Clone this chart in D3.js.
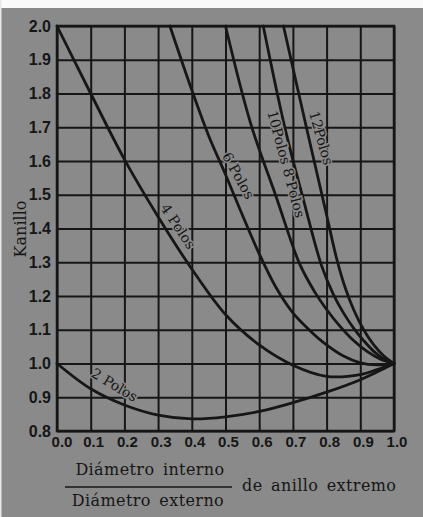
<!DOCTYPE html>
<html><head><meta charset="utf-8">
<script src="https://cdn.jsdelivr.net/npm/d3@7/dist/d3.min.js"></script>
<style>
html,body{margin:0;padding:0;background:#fff;}
svg{display:block;}
</style></head><body>
<svg id="chart" width="423" height="517"></svg>
<script>
// ---- data ----
const xTicks = [0,0.1,0.2,0.3,0.4,0.5,0.6,0.7,0.8,0.9,1.0];
const xTickLabels = ["0.0","0.1","0.2","0.3","0.4","0.5","0.6","0.7","0.8","0.9","1.0"];
const yTicks = [0.8,0.9,1.0,1.1,1.2,1.3,1.4,1.5,1.6,1.7,1.8,1.9,2.0];
const yTickLabels = ["0.8","0.9","1.0","1.1","1.2","1.3","1.4","1.5","1.6","1.7","1.8","1.9","2.0"];

const polos2 = [[0,1.0],[0.1,0.925],[0.2,0.877],[0.3,0.847],[0.4,0.836],[0.5,0.842],[0.6,0.858],[0.7,0.884],[0.8,0.915],[0.9,0.952],[1.0,1.0]];
const polos4 = [[0,2.0],[0.1,1.80],[0.2,1.605],[0.3,1.435],[0.4,1.28],[0.5,1.145],[0.6,1.055],[0.7,0.995],[0.8,0.962],[0.9,0.967],[0.95,0.982],[1.0,1.0]];
const polos6 = [[0.335,2.0],[0.4,1.81],[0.45,1.675],[0.5,1.56],[0.55,1.44],[0.6,1.325],[0.65,1.225],[0.7,1.15],[0.75,1.098],[0.8,1.055],[0.85,1.022],[0.9,1.002],[0.95,0.996],[1.0,1.0]];
const polos8 = [[0.5,2.0],[0.575,1.71],[0.65,1.495],[0.72,1.295],[0.766,1.21],[0.8,1.16],[0.84,1.11],[0.88,1.068],[0.92,1.036],[0.96,1.013],[1.0,1.0]];
const polos10 = [[0.612,2.0],[0.677,1.695],[0.73,1.49],[0.785,1.29],[0.82,1.205],[0.85,1.15],[0.88,1.105],[0.91,1.068],[0.94,1.036],[0.97,1.013],[1.0,1.0]];
const polos12 = [[0.672,2.0],[0.74,1.70],[0.80,1.44],[0.83,1.31],[0.855,1.225],[0.88,1.16],[0.91,1.10],[0.94,1.055],[0.97,1.022],[1.0,1.0]];
const seriesList = [polos2, polos4, polos6, polos8, polos10, polos12];

const labelTexts = ["2 Polos","4 Polos","6 Polos","10Polos 8 Polos","12Polos"];
const labelAt = [[0.165,0.9265],[0.350,1.40],[0.528,1.551],[0.669,1.588],[0.773,1.665]];
const labelAngles = [31,56,61,75,74];

// ---- drawing ----
(function(){
const W = 423, H = 517;
const svg = d3.select("#chart");
const bg = "#8a8a8a", ink = "#161616";

svg.append("rect").attr("width",W).attr("height",H).attr("fill",bg);
svg.append("rect").attr("width",W).attr("height",8).attr("fill","#fafafa");
svg.append("rect").attr("width",1.5).attr("height",H).attr("fill","#e8e8e8");

const pL = 57, pR = 394, pT = 26, pB = 431;
const x = d3.scaleLinear().domain([0,1]).range([pL,pR]);
const y = d3.scaleLinear().domain([0.8,2.0]).range([pB,pT]);

// grid via axes
const gx = svg.append("g").attr("transform",`translate(0,${pB})`)
  .call(d3.axisBottom(x).tickValues(xTicks).tickFormat((d,i)=>xTickLabels[i])
        .tickSize(-(pB-pT)).tickPadding(5));
const gy = svg.append("g").attr("transform",`translate(${pL},0)`)
  .call(d3.axisLeft(y).tickValues(yTicks).tickFormat((d,i)=>yTickLabels[i])
        .tickSize(-(pR-pL)).tickPadding(6));
[gx,gy].forEach(g=>{
  g.select(".domain").remove();
  g.selectAll(".tick line").attr("stroke",ink).attr("stroke-width",2);
});
gx.selectAll(".tick text").attr("fill",ink)
  .style("font-family","'Liberation Sans Narrow','Liberation Sans',sans-serif")
  .style("font-size","15px").style("font-weight","bold")
  .attr("dx",(d,i)=>i===0?"4.5":"2.5");
gy.selectAll(".tick text").attr("fill",ink)
  .style("font-family","'Liberation Sans Narrow','Liberation Sans',sans-serif")
  .style("font-size","16px").style("font-weight","bold");

// frame
svg.append("rect").attr("x",pL).attr("y",pT).attr("width",pR-pL).attr("height",pB-pT)
  .attr("fill","none").attr("stroke",ink).attr("stroke-width",2.5);

// curves
const line = d3.line().x(d=>x(d[0])).y(d=>y(d[1])).curve(d3.curveCatmullRom.alpha(0.5));
svg.append("g").selectAll("path").data(seriesList).join("path")
  .attr("d",line).attr("fill","none").attr("stroke",ink).attr("stroke-width",2.8)
  .attr("stroke-linecap","round");

// curve labels (lifted a few px perpendicular, to the upper-right of the curve)
const lift = 4;
svg.append("g").selectAll("text").data(labelTexts).join("text")
  .attr("transform",(d,i)=>{
    const a = labelAngles[i]*Math.PI/180;
    const px = x(labelAt[i][0]) + lift*Math.sin(a);
    const py = y(labelAt[i][1]) - lift*Math.cos(a);
    return `translate(${px},${py}) rotate(${labelAngles[i]})`;
  })
  .attr("text-anchor","middle").attr("dominant-baseline","central")
  .style("font-family","'DejaVu Serif',serif").style("font-size","14px")
  .attr("fill",ink).attr("stroke",bg).attr("stroke-width",3).attr("paint-order","stroke")
  .text(d=>d);

const serif = "'DejaVu Serif',serif";
// y title
svg.append("text").attr("transform","translate(20,229) rotate(-90)")
  .attr("text-anchor","middle").attr("dominant-baseline","central")
  .style("font-family",serif).style("font-size","16px").attr("fill",ink)
  .text("Kanillo");

// x title (fraction)
const tStyle = s => s.style("font-family",serif).style("font-size","16px")
  .style("letter-spacing","0.4px").style("word-spacing","3px").attr("fill",ink);
svg.append("text").attr("x",150).attr("y",475).attr("text-anchor","middle").call(tStyle).text("Diámetro interno");
svg.append("line").attr("x1",65).attr("x2",232).attr("y1",487).attr("y2",487)
  .attr("stroke",ink).attr("stroke-width",1.5);
svg.append("text").attr("x",148).attr("y",506).attr("text-anchor","middle").call(tStyle).text("Diámetro externo");
svg.append("text").attr("x",242).attr("y",491).attr("text-anchor","start").call(tStyle).text("de anillo extremo");
})();
</script>
</body></html>
